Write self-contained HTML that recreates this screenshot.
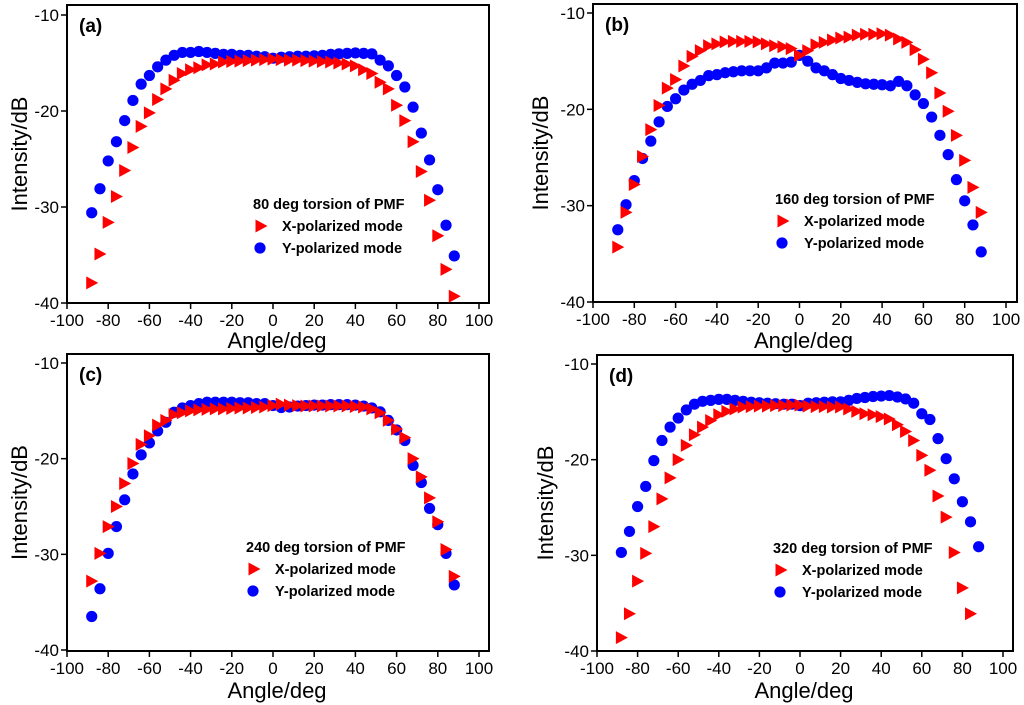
<!DOCTYPE html>
<html><head><meta charset="utf-8"><style>
html,body{margin:0;padding:0;background:#fff;}
svg{display:block;font-family:"Liberation Sans",Arial,sans-serif;}
</style></head><body>
<svg id="fig" width="1024" height="705" viewBox="0 0 1024 705" xmlns="http://www.w3.org/2000/svg"></svg>
<script>
const angles = [-88,-84,-80,-76,-72,-68,-64,-60,-56,-52,-48,-44,-40,-36,-32,-28,-24,-20,-16,-12,-8,-4,0,4,8,12,16,20,24,28,32,36,40,44,48,52,56,60,64,68,72,76,80,84,88];
const xTicks = [-100,-80,-60,-40,-20,0,20,40,60,80,100];
const yTicks = [-10,-20,-30,-40];
const aX = [-37.9,-34.9,-31.6,-28.9,-26.2,-23.8,-21.6,-20.2,-18.8,-17.7,-16.8,-16.1,-15.7,-15.5,-15.2,-15.1,-14.9,-14.85,-14.8,-14.75,-14.7,-14.65,-14.6,-14.65,-14.7,-14.7,-14.75,-14.8,-14.85,-14.9,-15.0,-15.1,-15.3,-15.7,-16.1,-17.0,-17.7,-19.4,-21.0,-23.2,-26.3,-29.3,-33.0,-36.5,-39.3];
const aY = [-30.6,-28.1,-25.2,-23.2,-21.0,-18.9,-17.2,-16.3,-15.4,-14.7,-14.2,-13.9,-13.9,-13.8,-13.9,-14.0,-14.1,-14.1,-14.2,-14.2,-14.3,-14.35,-14.5,-14.4,-14.35,-14.3,-14.3,-14.25,-14.2,-14.1,-14.05,-14.0,-13.95,-14.0,-14.05,-14.7,-15.3,-16.3,-17.5,-19.6,-22.3,-25.1,-28.2,-31.9,-35.1];
const bX = [-34.3,-30.7,-27.8,-24.9,-22.1,-19.6,-17.8,-16.9,-15.5,-14.5,-13.9,-13.4,-13.2,-13.0,-12.95,-12.95,-12.95,-13.0,-13.2,-13.4,-13.5,-13.7,-14.4,-13.9,-13.3,-13.05,-12.8,-12.6,-12.5,-12.3,-12.2,-12.2,-12.15,-12.3,-12.7,-13.05,-13.8,-14.8,-16.2,-18.3,-20.2,-22.7,-25.3,-28.1,-30.7];
const bY = [-32.5,-29.9,-27.4,-25.1,-23.3,-21.3,-19.7,-18.9,-18.0,-17.4,-17.0,-16.5,-16.4,-16.2,-16.1,-16.0,-16.0,-16.0,-15.7,-15.2,-15.2,-15.1,-14.4,-15.0,-15.7,-16.0,-16.4,-16.8,-17.0,-17.2,-17.35,-17.4,-17.45,-17.55,-17.1,-17.55,-18.5,-19.4,-20.8,-22.7,-24.7,-27.3,-29.5,-32.0,-34.8];
const cX = [-32.8,-29.9,-27.1,-25.0,-22.6,-20.5,-18.5,-17.6,-16.5,-16.0,-15.4,-15.2,-15.0,-14.9,-14.85,-14.8,-14.8,-14.75,-14.7,-14.7,-14.65,-14.6,-14.45,-14.3,-14.4,-14.45,-14.5,-14.5,-14.5,-14.5,-14.5,-14.5,-14.55,-14.6,-14.8,-15.2,-16.0,-16.9,-17.8,-20.0,-21.9,-24.1,-26.6,-29.5,-32.3];
const cY = [-36.5,-33.6,-29.9,-27.1,-24.3,-21.6,-19.6,-18.35,-17.1,-16.2,-15.15,-14.7,-14.45,-14.25,-14.1,-14.1,-14.1,-14.1,-14.15,-14.15,-14.25,-14.25,-14.45,-14.65,-14.6,-14.5,-14.45,-14.4,-14.4,-14.35,-14.35,-14.35,-14.4,-14.5,-14.7,-15.1,-16.0,-17.0,-18.1,-20.7,-22.5,-25.2,-26.9,-29.9,-33.2];
const dX = [-38.6,-36.1,-32.7,-29.8,-27.0,-24.1,-21.9,-20.0,-18.5,-17.4,-16.6,-15.9,-15.3,-14.95,-14.7,-14.5,-14.45,-14.4,-14.4,-14.35,-14.35,-14.3,-14.3,-14.4,-14.45,-14.45,-14.5,-14.5,-14.7,-14.95,-15.2,-15.3,-15.5,-15.75,-16.35,-17.05,-18.0,-19.55,-21.1,-23.8,-26.0,-29.7,-33.4,-36.1,null];
const dY = [-29.7,-27.5,-24.9,-22.8,-20.1,-18.0,-16.6,-15.65,-14.8,-14.2,-13.9,-13.8,-13.7,-13.7,-13.8,-13.9,-14.0,-14.05,-14.1,-14.15,-14.2,-14.2,-14.35,-14.1,-14.05,-14.0,-13.95,-13.95,-13.8,-13.6,-13.5,-13.4,-13.35,-13.3,-13.45,-13.65,-14.1,-15.2,-15.8,-17.8,-19.9,-22.0,-24.4,-26.5,-29.1];
const panelLabels = ["(a)","(b)","(c)","(d)"];
const torsions = ["80 deg torsion of PMF","160 deg torsion of PMF","240 deg torsion of PMF","320 deg torsion of PMF"];

const panels = [
 {box:[67,489,5,303], xr:[67,479], yr:[15,303], lx:253, ly:204, ytx:20, xty:340, xs:aX, ys:aY},
 {box:[593,1017,4,302], xr:[593,1006], yr:[13,302], lx:775, ly:199, ytx:541, xty:340, xs:bX, ys:bY},
 {box:[67,489,354,651], xr:[67,479], yr:[363,650], lx:246, ly:547, ytx:20, xty:690, xs:cX, ys:cY},
 {box:[597,1013,355,651], xr:[597,1003], yr:[364,651], lx:773, ly:548, ytx:546, xty:690, xs:dX, ys:dY}
];
const NS="http://www.w3.org/2000/svg";
const svg=document.getElementById('fig');
function mk(tag,attrs,parent){const e=document.createElementNS(NS,tag);for(const k in attrs)e.setAttribute(k,attrs[k]);(parent||svg).appendChild(e);return e;}
function tri(g,cx,cy){return mk('polygon',{points:`${cx-5.5},${cy-6.5} ${cx+6.5},${cy} ${cx-5.5},${cy+6.5}`,fill:'#ff0000'},g);}
function dot(g,cx,cy){return mk('circle',{cx:cx,cy:cy,r:5.6,fill:'#0000ff'},g);}

panels.forEach((p,i)=>{
  const g=mk('g',{});
  
  
  const X=v=>p.xr[0]+(v+100)/200*(p.xr[1]-p.xr[0]);
  const Y=v=>p.yr[0]+(-10-v)/30*(p.yr[1]-p.yr[0]);
  const [l,r,t,b]=p.box;
  const frame=mk('rect',{x:l,y:t,width:r-l,height:b-t,fill:'none',stroke:'#000','stroke-width':2},g);
  
  
  xTicks.forEach(v=>{
    mk('line',{x1:X(v),x2:X(v),y1:b,y2:b+6,stroke:'#000','stroke-width':1.5},g);
    const tx=mk('text',{x:X(v),y:b+23,'text-anchor':'middle','font-size':17,fill:'#000'},g);
    tx.textContent=v;
    
    
  });
  yTicks.forEach(v=>{
    mk('line',{x1:l-6,x2:l,y1:Y(v),y2:Y(v),stroke:'#000','stroke-width':1.5},g);
    const ty=mk('text',{x:l-8,y:Y(v)+6,'text-anchor':'end','font-size':17,fill:'#000'},g);
    ty.textContent=v;
    
    
  });
  const yt=mk('text',{x:p.ytx,y:(t+b)/2,'text-anchor':'middle','font-size':22,fill:'#000',transform:`rotate(-90 ${p.ytx} ${(t+b)/2})`,dy:7},g);
  yt.textContent='Intensity/dB';
  
  
  const xt=mk('text',{x:X(0)+4,y:p.xty+8,'text-anchor':'middle','font-size':22,fill:'#000'},g);
  xt.textContent='Angle/deg';
  
  
  const pl=mk('text',{x:l+12,y:t+27,'font-size':19,'font-weight':'bold',fill:'#000'},g);
  pl.textContent=panelLabels[i];
  
  
  angles.forEach((a,k)=>{
    if(p.ys[k]!=null){const c=dot(g,X(a),Y(p.ys[k]));
      
      }
  });
  angles.forEach((a,k)=>{
    if(p.xs[k]!=null){const m=tri(g,X(a),Y(p.xs[k]));
      
      }
  });
  const lg=mk('g',{},g);
  
  
  const lt=mk('text',{x:p.lx,y:p.ly+5,'font-size':14.5,'font-weight':'bold',fill:'#000'},lg);
  lt.textContent=torsions[i];
  
  
  tri(lg,p.lx+8,p.ly+22);
  const e1=mk('text',{x:p.lx+29,y:p.ly+27,'font-size':14.5,'font-weight':'bold',fill:'#000'},lg);
  e1.textContent='X-polarized mode';
  
  
  dot(lg,p.lx+7,p.ly+44);
  const e2=mk('text',{x:p.lx+29,y:p.ly+49,'font-size':14.5,'font-weight':'bold',fill:'#000'},lg);
  e2.textContent='Y-polarized mode';
  
  
});
</script>
</body></html>
